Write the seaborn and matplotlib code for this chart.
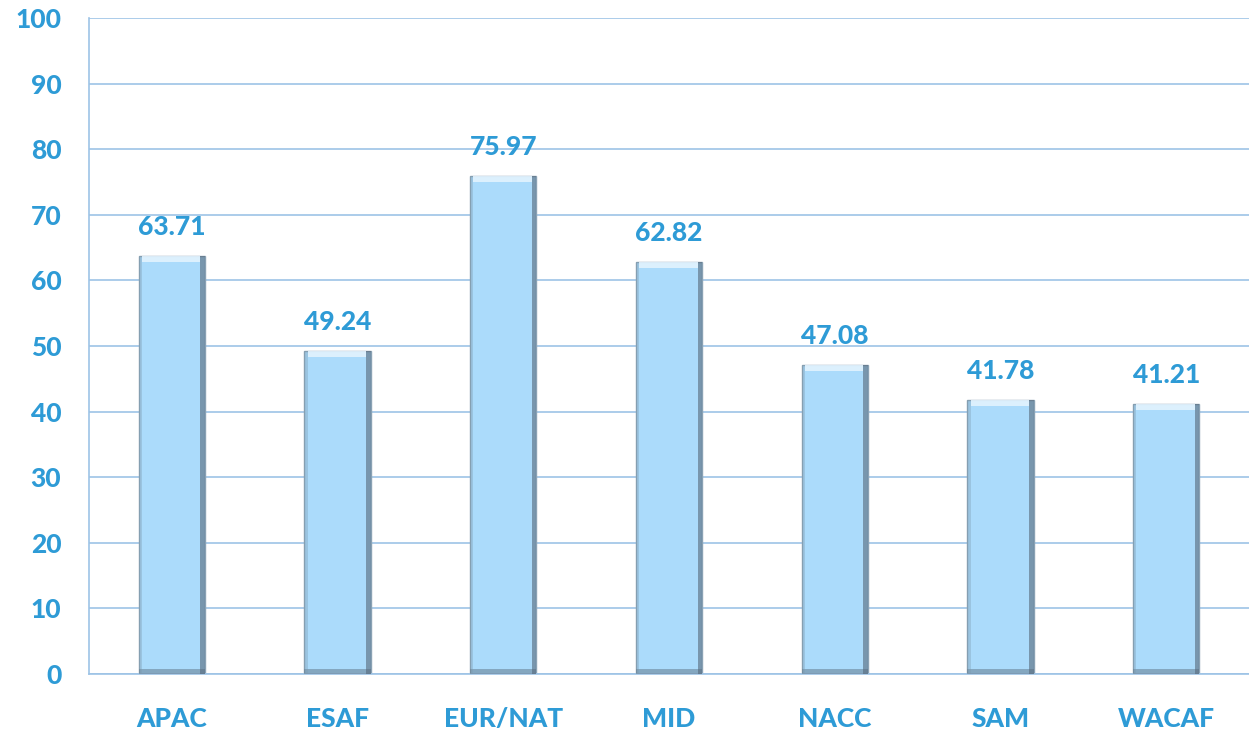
import matplotlib
matplotlib.use("Agg")
import matplotlib.pyplot as plt
import seaborn as sns
import pandas as pd
from matplotlib.patches import Rectangle

regions = ["APAC", "ESAF", "EUR/NAT", "MID", "NACC", "SAM", "WACAF"]
scores = [63.71, 49.24, 75.97, 62.82, 47.08, 41.78, 41.21]
y_ticks = [0, 10, 20, 30, 40, 50, 60, 70, 80, 90, 100]

TEXT_BLUE = "#2E9BD6"
GRID_BLUE = "#9DC3E6"
BAR_FACE = "#ABDBFB"


def add_bevel(ax, patch):
    x, w, h = patch.get_x(), patch.get_width(), patch.get_height()
    # darker right edge and bottom, lighter top edge
    ax.add_patch(Rectangle((x + w * 0.93, 0), w * 0.07, h, color="#56697A", alpha=0.6, lw=0, zorder=3))
    ax.add_patch(Rectangle((x, 0), w, 0.7, color="#56697A", alpha=0.45, lw=0, zorder=3))
    ax.add_patch(Rectangle((x, 0), w * 0.05, h, color="#7D9AAE", alpha=0.35, lw=0, zorder=3))
    ax.add_patch(Rectangle((x + w * 0.05, h - 0.9), w * 0.88, 0.9, color="#E2F3FE", alpha=0.9, lw=0, zorder=3))


def main():
    sns.set_style("white")
    plt.rcParams["font.family"] = ["Lato", "DejaVu Sans"]

    df = pd.DataFrame({"region": regions, "score": scores})

    fig = plt.figure(figsize=(12.49, 7.33), dpi=100)
    ax = fig.add_axes([0.0713, 0.0805, 0.9287, 0.8949])

    sns.barplot(data=df, x="region", y="score", color=BAR_FACE, saturation=1,
                width=0.4, edgecolor="#8AA2B4", linewidth=1.0, ax=ax, zorder=2)

    for patch in list(ax.patches):
        add_bevel(ax, patch)

    for i, v in enumerate(scores):
        ax.text(i, v + 2.6, f"{v:.2f}", ha="center", va="bottom",
                fontsize=19, fontweight=900, color=TEXT_BLUE)

    ax.set_xlim(-0.5, len(regions) - 0.5)
    ax.set_ylim(0, 100)
    ax.set_yticks(y_ticks)
    ax.yaxis.grid(True, color=GRID_BLUE, linewidth=1.2, zorder=0)
    ax.set_axisbelow(True)

    ax.set_xticks(range(len(regions)))
    ax.set_xticks([i - 0.5 for i in range(len(regions) + 1)], minor=True)
    ax.tick_params(axis="x", which="major", length=0, pad=24)
    ax.tick_params(axis="x", which="minor", length=8, width=1.2, color=GRID_BLUE, direction="out")
    ax.tick_params(axis="y", length=8, width=1.2, color=GRID_BLUE, direction="out", pad=12)

    for lbl in ax.get_xticklabels() + ax.get_yticklabels():
        lbl.set_fontsize(19)
        lbl.set_fontweight(900)
        lbl.set_color(TEXT_BLUE)

    ax.set_xlabel("")
    ax.set_ylabel("")
    for side in ["top", "right"]:
        ax.spines[side].set_visible(False)
    ax.spines["left"].set_color(GRID_BLUE)
    ax.spines["left"].set_linewidth(1.2)
    ax.spines["bottom"].set_color(GRID_BLUE)
    ax.spines["bottom"].set_linewidth(1.2)

    fig.savefig("out.png", dpi=100)
    plt.close(fig)


if __name__ == "__main__":
    main()
